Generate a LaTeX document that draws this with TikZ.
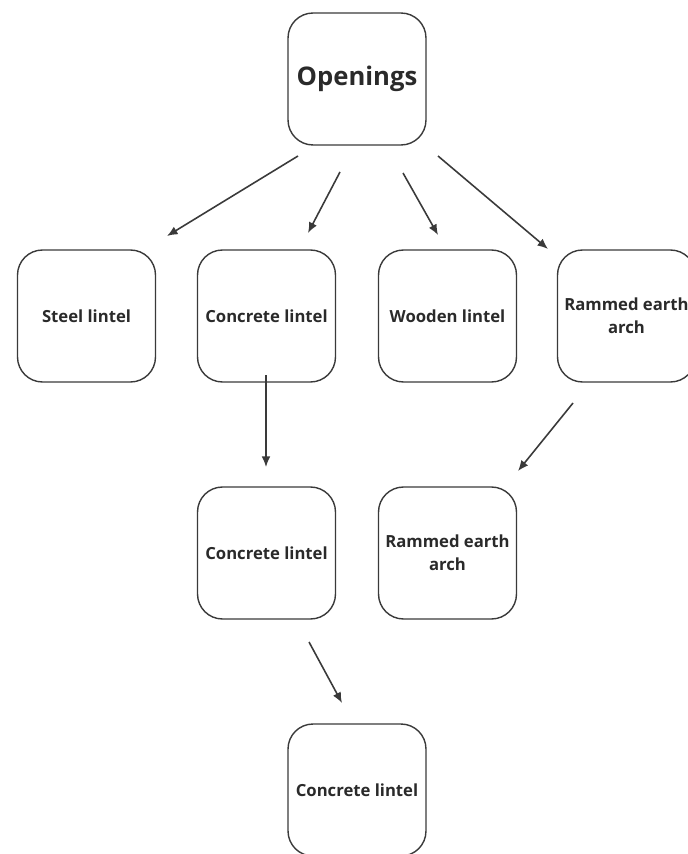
\documentclass[tikz,border=0pt]{standalone}
\usepackage{fontspec}
\setmainfont{Open Sans}
\usepackage{xcolor}
\usetikzlibrary{arrows.meta,calc,positioning}

\definecolor{boxline}{HTML}{3A3A3A}
\definecolor{txt}{HTML}{2A2A2A}

\tikzset{
  card/.style={draw=boxline, line width=0.8pt, rounded corners=0.5cm,
    minimum width=2.76cm, minimum height=2.64cm, align=center,
    text=txt, font=\fontsize{9.5}{13}\selectfont\bfseries, inner sep=0pt},
  link/.style={-{Latex[length=6pt,width=5pt]}, draw=boxline, line width=0.9pt}
}

\begin{document}
\begin{tikzpicture}[x=0.02cm, y=-0.02cm]
  \useasboundingbox (0,0) rectangle (688,854);
  \clip (0,0) rectangle (688,854);

  % top
  \node[card, font=\fontsize{14.6}{18}\selectfont\bfseries] (open) at (357,79) {Openings};

  % second row
  \node[card] (steel) at (86.5,316) {Steel lintel};
  \node[card] (conc1) at (266.5,316) {Concrete lintel};
  \node[card] (wood)  at (447.5,316) {Wooden lintel};
  \node[card] (ram1)  at (626.5,316) {Rammed earth\\arch};

  % third row
  \node[card] (conc2) at (266.5,553) {Concrete lintel};
  \node[card] (ram2)  at (447.5,553) {Rammed earth\\arch};

  % bottom
  \node[card] (conc3) at (357,790) {Concrete lintel};

  % arrow ends (arrows stop short of the boxes)
  \coordinate (a1s) at (298,156); \coordinate (a1e) at (167,236);
  \coordinate (a2s) at (340,172); \coordinate (a2e) at (308,233);
  \coordinate (a3s) at (403,173); \coordinate (a3e) at (438,235);
  \coordinate (a4s) at (438,156); \coordinate (a4e) at (548,249);
  \coordinate (a5s) at (266,375); \coordinate (a5e) at (266,467);
  \coordinate (a6s) at (573,403); \coordinate (a6e) at (518,471);
  \coordinate (a7s) at (309,642); \coordinate (a7e) at (342,703);

  \draw[link] (a1s) -- (a1e);
  \draw[link] (a2s) -- (a2e);
  \draw[link] (a3s) -- (a3e);
  \draw[link] (a4s) -- (a4e);
  \draw[link] (a5s) -- (a5e);
  \draw[link] (a6s) -- (a6e);
  \draw[link] (a7s) -- (a7e);
\end{tikzpicture}
\end{document}
